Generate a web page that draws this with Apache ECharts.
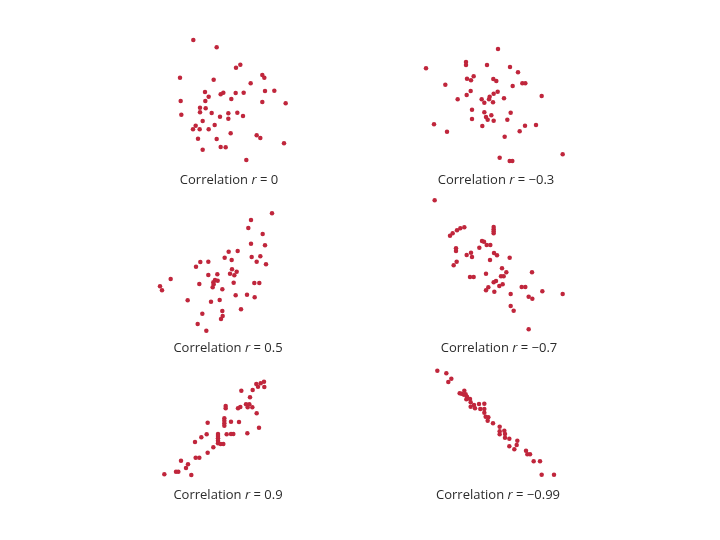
<!DOCTYPE html>
<html><head><meta charset="utf-8">
<script src="https://cdn.jsdelivr.net/npm/echarts@6/dist/echarts.min.js"></script>
<style>html,body{margin:0;padding:0;background:#fff}#c{width:720px;height:540px}</style>
</head><body><div id="c"></div>
<script>
const labels = ['0', '\u22120.3', '0.5', '\u22120.7', '0.9', '\u22120.99'];

const r0 = [[100,375],[170,353],[228,292],[241,301],[60,262],[161,256],[307,270],[313,262],[272,245],[135,219],[146,205],[182,212],[190,217],[227,216],[251,217],[315,222],[343,223],[62,192],[136,192],[214,198],[307,189],[377,185],[120,172],[137,170],[120,158],[155,156],[205,155],[232,157],[64,151],[180,145],[205,139],[249,147],[128,132],[107,118],[99,107],[119,107],[146,107],[164,120],[212,95],[290,89],[301,81],[114,79],[170,78],[182,54],[197,53],[128,46],[372,65],[259,15]];
const rm03 = [[249,348],[153,309],[153,300],[33,290],[216,300],[285,294],[309,278],[156,259],[176,266],[168,254],[235,258],[244,252],[91,241],[293,237],[322,245],[331,245],[167,222],[155,210],[248,220],[236,214],[224,205],[222,197],[200,197],[208,187],[234,188],[267,200],[128,197],[380,207],[171,166],[208,158],[229,149],[287,157],[213,144],[218,136],[236,133],[171,138],[277,136],[57,122],[202,117],[330,118],[363,120],[96,100],[314,101],[269,85],[254,22],[284,12],[292,12],[443,32]];
const r05 = [[366,365],[303,345],[295,321],[338,303],[303,274],[345,269],[236,250],[263,252],[305,234],[331,236],[224,232],[245,225],[320,220],[348,212],[151,219],[175,220],[138,205],[246,197],[260,190],[240,184],[253,179],[175,180],[202,182],[195,165],[203,163],[190,158],[191,152],[148,153],[251,157],[313,156],[328,156],[62,168],[30,146],[36,134],[188,143],[217,137],[257,119],[291,121],[314,113],[113,104],[183,100],[209,105],[273,77],[217,72],[218,57],[213,48],[157,64],[143,33],[169,13]];
const rm07 = [[44,404],[90,298],[98,305],[111,314],[121,320],[133,323],[221,324],[221,317],[221,311],[221,305],[186,282],[192,280],[200,270],[211,270],[178,262],[108,260],[108,252],[222,246],[231,239],[153,247],[140,240],[156,234],[269,232],[210,225],[110,220],[101,209],[246,200],[259,188],[336,188],[198,184],[150,174],[161,174],[243,176],[251,176],[228,162],[221,158],[248,152],[238,147],[205,143],[198,134],[223,130],[305,144],[316,144],[367,131],[428,123],[272,123],[326,115],[337,109],[272,87],[281,73],[326,17]];
const r09 = [[327,295],[317,290],[304,288],[309,280],[328,279],[293,270],[259,268],[285,248],[212,222],[212,215],[249,215],[273,227],[283,227],[292,218],[278,218],[256,219],[305,200],[208,185],[208,178],[208,170],[228,175],[252,174],[158,172],[208,163],[312,157],[189,138],[189,132],[215,137],[228,138],[235,138],[277,140],[155,137],[189,125],[189,118],[189,110],[197,108],[205,108],[139,128],[120,114],[175,98],[158,82],[122,67],[133,67],[78,58],[99,47],[93,36],[63,25],[70,25],[28,17],[109,15]];
const rm099 = [[37,343],[64,335],[70,309],[79,319],[104,275],[110,274],[118,283],[122,272],[126,265],[117,271],[124,257],[135,258],[137,248],[137,235],[147,240],[150,230],[162,243],[178,244],[166,228],[178,228],[178,217],[182,205],[190,203],[188,193],[204,185],[224,175],[238,163],[224,161],[224,152],[240,153],[240,142],[253,139],[277,133],[275,120],[253,116],[268,107],[303,103],[307,92],[315,92],[326,71],[345,71],[350,31],[387,31]];

const panelData = [r0, rm03, r05, rm07, r09, rm099];
// layout: grid boxes [left, top, width, height] and label centres
const boxes = [[160,30,140,135],[415,35,160,130],[150,200,135,135],[420,190,155,145],[155,370,125,110],[425,360,140,125]];
const labelPos = [[229,180],[496,180],[228,348],[499,348],[228,495],[498,495]];

const chart = echarts.init(document.getElementById('c'));
const grid = [], xAxis = [], yAxis = [], series = [], graphic = [];
boxes.forEach((b, i) => {
  grid.push({left: b[0], top: b[1], width: b[2], height: b[3]});
  xAxis.push({gridIndex: i, type: 'value', min: 0, max: b[2]*3, show: false});
  yAxis.push({gridIndex: i, type: 'value', min: 0, max: b[3]*3, show: false});
  series.push({type: 'scatter', xAxisIndex: i, yAxisIndex: i, data: panelData[i],
    symbolSize: 4.5, itemStyle: {color: '#c0263c', opacity: 1}, silent: true});
  graphic.push({type: 'text', left: labelPos[i][0], top: labelPos[i][1],
    style: {text: 'Correlation {i|r} = ' + labels[i],
      font: '13px "Open Sans", sans-serif', fill: '#2b2b2b',
      align: 'center', verticalAlign: 'middle',
      rich: {i: {fontStyle: 'italic', font: 'italic 13px "Open Sans", sans-serif', fill: '#2b2b2b'}}}});
});
// graphic left/top position the bounding box; use x/y instead
graphic.forEach((g, i) => { delete g.left; delete g.top; g.x = labelPos[i][0]; g.y = labelPos[i][1]; });
chart.setOption({animation: false, grid, xAxis, yAxis, series, graphic});
</script></body></html>
